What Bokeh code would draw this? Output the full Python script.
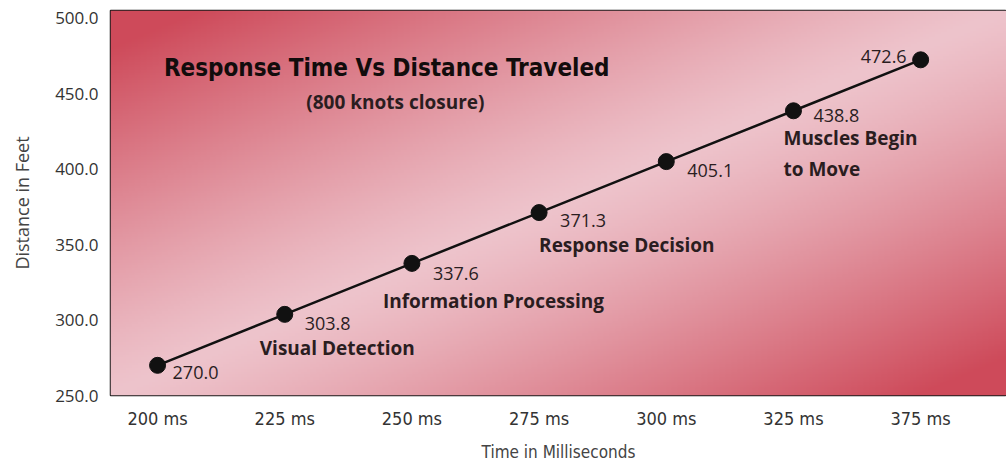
import numpy as np
from bokeh.plotting import figure
from bokeh.models import Range1d, FixedTicker, NumeralTickFormatter, Label, ColumnDataSource
from bokeh.core.properties import value
from bokeh.embed import file_html
from bokeh.resources import INLINE

# ---- data ----
times = ["200 ms", "225 ms", "250 ms", "275 ms", "300 ms", "325 ms", "375 ms"]
distances = [270.0, 303.8, 337.6, 371.3, 405.1, 438.8, 472.6]
stage_names = ["Visual Detection", "Information Processing", "Response Decision", "Muscles Begin\nto Move"]
stage_index = [1, 2, 3, 5]
y_ticks = [250, 300, 350, 400, 450, 500]
title_text = "Response Time Vs Distance Traveled"
subtitle_text = "(800 knots closure)"
x_label = "Time in Milliseconds"
y_label = "Distance in Feet"

# ---- styling / layout (screen offsets) ----
value_dx = [15, 20, 21, 21, 21, 20]
value_dy = [7, 9, 10, 8, 9, 5]
stage_dx = [-25, -29, 0, -10]
stage_dy = [34, 38, 32, 43]
COND = "DejaVu Sans Condensed"

idx = list(range(len(times)))
xr = Range1d(-0.37, 6.675)
yr = Range1d(250, 505.3)

p = figure(width=1006, height=464, x_range=xr, y_range=yr,
           output_backend="svg", toolbar_location=None,
           min_border_left=110, min_border_right=0, min_border_top=10, min_border_bottom=66)
p.grid.visible = False
p.outline_line_color = "#1a1a1a"
p.outline_line_width = 1.5
p.border_fill_color = "white"

# background gradient
W, H = 300, 150
u = np.linspace(0, 1, W)[None, :]
v = np.linspace(1, 0, H)[:, None]
d = np.clip(np.abs(u + v - 1.0) * 1.1, 0, 1) ** 1.2
light = np.array([238, 196, 204])
dark = np.array([206, 74, 90])
img = np.empty((H, W), dtype=np.uint32)
view = img.view(dtype=np.uint8).reshape((H, W, 4))
for c in range(3):
    view[:, :, c] = (light[c] * (1 - d) + dark[c] * d).astype(np.uint8)
view[:, :, 3] = 255
p.image_rgba(image=[img], x=xr.start, y=yr.start, dw=xr.end - xr.start, dh=yr.end - yr.start)

# line and points
p.line(idx, distances, line_color="#111111", line_width=2.5)
p.scatter(idx, distances, size=16, color="#111111")

# value labels
n = len(distances)
src_v = ColumnDataSource(dict(x=idx[:n - 1], y=distances[:n - 1],
                              t=[f"{d_:.1f}" for d_ in distances[:n - 1]],
                              dx=value_dx, dy=value_dy))
p.text(x="x", y="y", text="t", x_offset="dx", y_offset="dy", source=src_v,
       text_font=value("Open Sans"), text_font_size="18px", text_color="#2a1d1f",
       text_align="left", text_baseline="middle")
p.text(x=[idx[-1]], y=[distances[-1]], text=[f"{distances[-1]:.1f}"], x_offset=-14, y_offset=-3,
       text_font=value("Open Sans"), text_font_size="18px", text_color="#2a1d1f",
       text_align="right", text_baseline="middle")

# stage labels
src_s = ColumnDataSource(dict(x=stage_index, y=[distances[i] for i in stage_index],
                              t=stage_names, dx=stage_dx, dy=stage_dy))
p.text(x="x", y="y", text="t", x_offset="dx", y_offset="dy", source=src_s,
       text_font=value("Open Sans"), text_font_style="bold", text_font_size="19px",
       text_color="#2a1d1f", text_align="left", text_baseline="middle", text_line_height=1.2)

# title and subtitle
p.add_layout(Label(x=0.05, y=467, text=title_text, text_font=COND,
                   text_font_style="bold", text_font_size="24px", text_color="#120c0c",
                   text_baseline="middle", text_align="left"))
p.add_layout(Label(x=1.87, y=444.6, text=subtitle_text, text_font="Open Sans",
                   text_font_style="bold", text_font_size="19px", text_color="#2a1d1f",
                   text_baseline="middle", text_align="center"))

# axes
p.xaxis.ticker = FixedTicker(ticks=idx)
p.xaxis.major_label_overrides = {i: t for i, t in enumerate(times)}
p.xaxis.axis_label = x_label
p.yaxis.ticker = FixedTicker(ticks=y_ticks)
p.yaxis.formatter = NumeralTickFormatter(format="0.0")
p.yaxis.axis_label = y_label
for ax in (p.xaxis, p.yaxis):
    ax.axis_line_color = None
    ax.major_tick_line_color = None
    ax.minor_tick_line_color = None
    ax.major_tick_out = 0
    ax.major_tick_in = 0
    ax.major_label_text_color = "#333333"
    ax.axis_label_text_color = "#444444"
    ax.axis_label_text_font_style = "normal"
p.xaxis.major_label_text_font = COND
p.xaxis.major_label_text_font_size = "18px"
p.xaxis.major_label_standoff = 12
p.xaxis.axis_label_text_font = COND
p.xaxis.axis_label_text_font_size = "17px"
p.xaxis.axis_label_standoff = 10
p.yaxis.major_label_text_font = "Open Sans"
p.yaxis.major_label_text_font_size = "17px"
p.yaxis.major_label_standoff = 12
p.yaxis.axis_label_text_font = "Open Sans"
p.yaxis.axis_label_text_font_size = "18px"
p.yaxis.axis_label_standoff = 18

open("out.html", "w").write(file_html(p, INLINE))
